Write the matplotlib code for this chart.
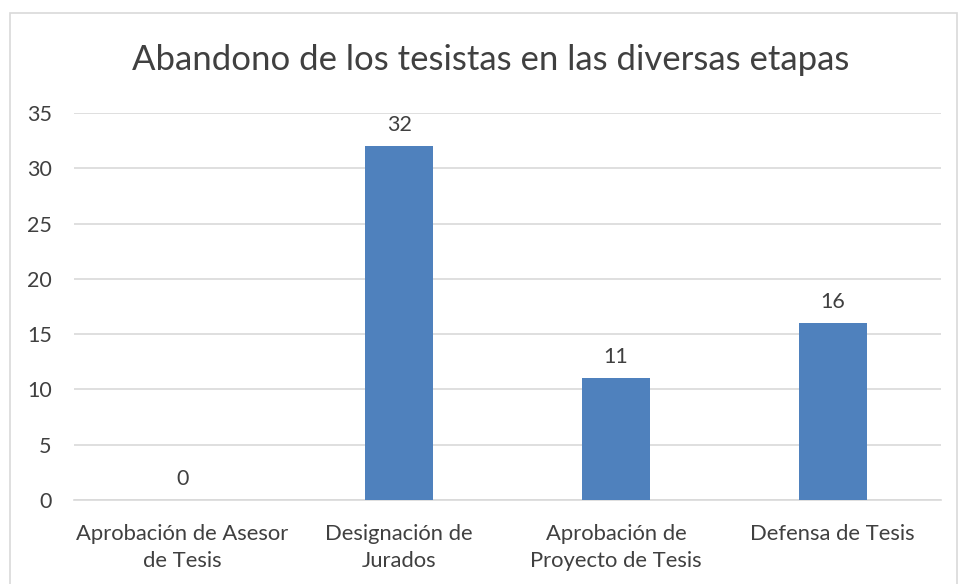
import matplotlib.pyplot as plt
from matplotlib.patches import Rectangle

categorias = ['Aprobación de Asesor\nde Tesis', 'Designación de\nJurados',
              'Aprobación de\nProyecto de Tesis', 'Defensa de Tesis']
valores = [0, 32, 11, 16]

plt.rcParams['font.family'] = ['Lato', 'DejaVu Sans']

fig = plt.figure(figsize=(9.6, 5.84), dpi=100)
fig.patches.append(Rectangle((10/960, -0.01), 947/960, 1.01 - 13/584, transform=fig.transFigure,
                             fill=False, edgecolor='#d9d9d9', linewidth=1.2))
ax = fig.add_axes([74/960, 84/584, 867/960, 387/584])

x = range(len(categorias))
bars = ax.bar(x, valores, width=0.314, color='#4f81bd', zorder=3)
for b, v in zip(bars, valores):
    ax.text(b.get_x() + b.get_width()/2, v + 1.0, str(v), ha='center', va='bottom',
            fontsize=15.5, color='#404040')

ax.set_xlim(-0.5, 3.5)
ax.set_ylim(0, 35)
ax.set_yticks(range(0, 36, 5))
ax.set_xticks(list(x))
ax.set_xticklabels(categorias, fontsize=15.8, color='#404040', linespacing=1.45)
ax.tick_params(axis='y', labelsize=15.5, labelcolor='#404040', length=0, pad=16)
ax.tick_params(axis='x', length=0, pad=17)
ax.grid(axis='y', color='#d9d9d9', linewidth=1.2, zorder=0)
for s in ['top', 'right', 'left']:
    ax.spines[s].set_visible(False)
ax.spines['bottom'].set_color('#d9d9d9')
ax.spines['bottom'].set_linewidth(1.2)

fig.text(491/960, 1 - 60/584, 'Abandono de los tesistas en las diversas etapas', ha='center', va='center',
         fontsize=25, color='#404040')

fig.savefig('out.png', dpi=100)
